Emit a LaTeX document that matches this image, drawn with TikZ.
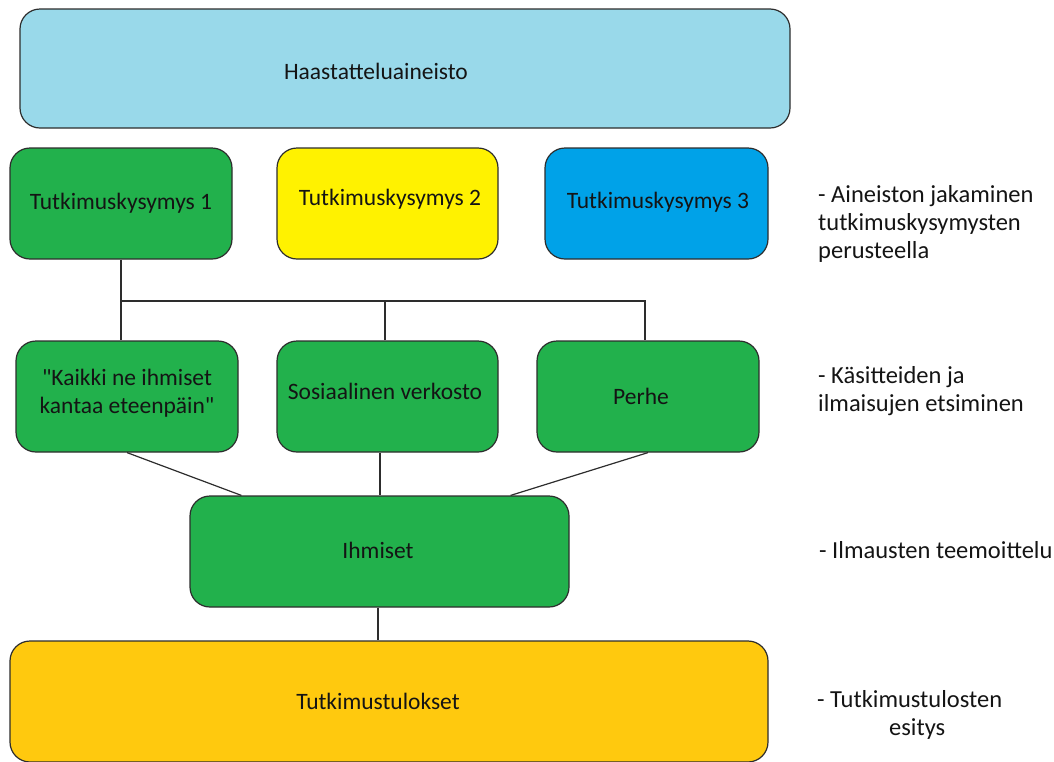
\documentclass[tikz,border=0pt]{standalone}
\usepackage{fontspec}
\setmainfont{Carlito}
\usetikzlibrary{calc}
\definecolor{lblue}{RGB}{153,217,234}
\definecolor{pgreen}{RGB}{34,177,76}
\definecolor{pyellow}{RGB}{255,242,0}
\definecolor{pblue}{RGB}{0,162,232}
\definecolor{pgold}{RGB}{255,201,14}
\definecolor{edge}{RGB}{45,45,45}
\definecolor{txt}{RGB}{20,20,20}
\begin{document}
\begin{tikzpicture}[x=1pt,y=-1pt,
  font=\fontsize{23.5}{28}\selectfont,
  box/.style={draw=edge,line width=1.2pt,rounded corners=20pt,inner sep=0pt,text=txt,align=center},
  conn/.style={draw=edge,line width=1.2pt},
  note/.style={anchor=west,align=left,text=txt,inner sep=0pt,font=\fontsize{24.5}{28}\selectfont}]
\useasboundingbox (0,0) rectangle (1054,761);
% top
\node[box,fill=lblue,minimum width=770pt,minimum height=119pt,
  label={[xshift=-29pt,yshift=-2.5pt,text=txt]center:Haastatteluaineisto}] (top) at (405,68.5) {};
% row 2
\node[box,fill=pgreen,minimum width=222pt,minimum height=111pt] (tk1) at (121,203.5) {Tutkimuskysymys 1};
\node[box,fill=pyellow,minimum width=221pt,minimum height=111pt,
  label={[xshift=2.5pt,yshift=4.5pt,text=txt]center:Tutkimuskysymys 2}] (tk2) at (387.5,203.5) {};
\node[box,fill=pblue,minimum width=223pt,minimum height=111pt,
  label={[xshift=1.5pt,yshift=1.5pt,text=txt]center:Tutkimuskysymys 3}] (tk3) at (656.5,203.5) {};
% row 3
\node[box,fill=pgreen,minimum width=222pt,minimum height=111pt,
  label={[yshift=3.5pt,text=txt,align=center]center:\textquotedbl Kaikki ne ihmiset\\kantaa eteenpäin\textquotedbl}] (a) at (127,396.5) {};
\node[box,fill=pgreen,minimum width=221pt,minimum height=111pt,
  label={[xshift=-2.5pt,yshift=5.5pt,text=txt]center:Sosiaalinen verkosto}] (b) at (387.5,396.5) {};
\node[box,fill=pgreen,minimum width=222pt,minimum height=111pt,
  label={[xshift=-7pt,text=txt]center:Perhe}] (c) at (648,396.5) {};
% row 4
\node[box,fill=pgreen,minimum width=379pt,minimum height=111pt,
  label={[xshift=-1.5pt,yshift=1.5pt,text=txt]center:Ihmiset}] (ihm) at (379.5,551.5) {};
% bottom
\node[box,fill=pgold,minimum width=758pt,minimum height=121pt,
  label={[xshift=-11pt,yshift=0.5pt,text=txt]center:Tutkimustulokset}] (res) at (389,701.5) {};
% connectors
\coordinate (j) at (121,301);
\draw[conn] (tk1.south) -- (j) -- (j |- a.north);
\draw[conn] (j) -| ([xshift=-3pt]c.north);
\draw[conn] ([xshift=-2.5pt]b.north) -- ([xshift=-2.5pt]b.north |- j);
\draw[conn] (a.south) -- ([xshift=52pt]ihm.north west);
\draw[conn] ([xshift=-7.5pt]b.south) -- ([xshift=-7.5pt]b.south |- ihm.north);
\draw[conn] (c.south) -- ([xshift=-59pt]ihm.north east);
\draw[conn] ([xshift=-1.5pt]ihm.south) -- ([xshift=-1.5pt]ihm.south |- res.north);
% notes
\node[note] (n1) at (818,224) {- Aineiston jakaminen\\tutkimuskysymysten\\perusteella};
\node[note] (n2) at (818,391) {- Käsitteiden ja\\ilmaisujen etsiminen};
\node[note] (n3) at (819,550) {- Ilmausten teemoittelu};
\node[note] (n4) at (817,715) {- Tutkimustulosten\\\hspace*{72pt}esitys};
\end{tikzpicture}
\end{document}
